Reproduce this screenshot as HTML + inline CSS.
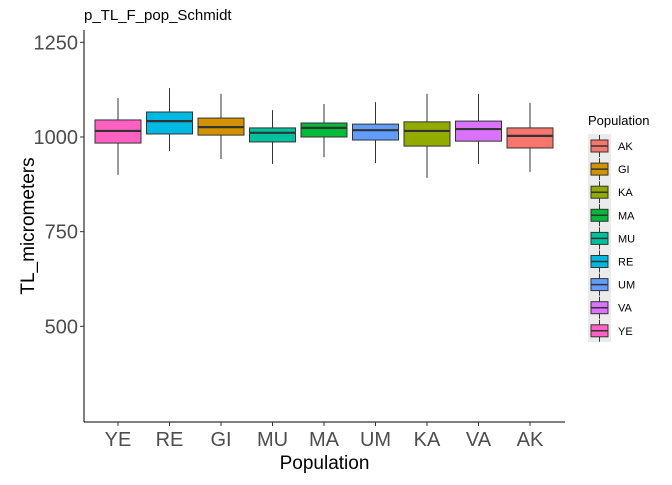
<!DOCTYPE html>
<html><head><meta charset="utf-8"><style>
body{margin:0;background:#fff;}
svg text{font-family:"Liberation Sans",sans-serif;}
</style></head><body>
<svg id="chart" width="672" height="480" xmlns="http://www.w3.org/2000/svg">
<text x="84" y="20" font-size="15" fill="#000">p_TL_F_pop_Schmidt</text>
<g id="plot"></g>
</svg>
<script>
const categories=["YE","RE","GI","MU","MA","UM","KA","VA","AK"];
const whiskerHigh=[1103,1129,1114,1071,1087,1092,1114,1114,1090];
const q3=[1045,1066,1050,1024,1037,1034,1040,1042,1024];
const medians=[1016,1042,1026,1011,1024,1018,1016,1021,1003];
const q1=[984,1008,1005,987,1000,992,976,989,971];
const whiskerLow=[900,963,942,929,947,931,892,929,908];
const yTicks=[500,750,1000,1250];
const legendOrder=["AK","GI","KA","MA","MU","RE","UM","VA","YE"];
const colors={AK:"#F8766D",GI:"#D39200",KA:"#93AA00",MA:"#00BA38",MU:"#00C19F",RE:"#00B9E3",UM:"#619CFF",VA:"#DB72FB",YE:"#FF61C3"};

const NS="http://www.w3.org/2000/svg";
const g=document.getElementById('plot');
const L=84,R=565,T=30,B=422;
function y(v){return 137-(v-1000)*0.3787;}
const step=51.5;
function x(i){return 118+step*i;}
function mk(tag,a,parent){const e=document.createElementNS(NS,tag);for(const k in a)e.setAttribute(k,a[k]);(parent||g).appendChild(e);return e;}

let e=mk('line',{x1:L,y1:T,x2:L,y2:B,stroke:'#000','stroke-width':1});


e=mk('line',{x1:L,y1:B,x2:R,y2:B,stroke:'#000','stroke-width':1});



yTicks.forEach(v=>{
  let t=mk('line',{x1:L-4,x2:L,y1:y(v),y2:y(v),stroke:'#333'});
  
  
  let l=mk('text',{x:L-6,y:y(v)+7,'font-size':20,'text-anchor':'end',fill:'#4d4d4d'});
  l.textContent=v;
  
  
});

categories.forEach((c,i)=>{
  const cx=x(i),w=46,col=colors[c];
  let grp=mk('g',{});
  
  
  mk('line',{x1:cx,x2:cx,y1:y(whiskerHigh[i]),y2:y(q3[i]),stroke:'#333'},grp);
  mk('line',{x1:cx,x2:cx,y1:y(q1[i]),y2:y(whiskerLow[i]),stroke:'#333'},grp);
  mk('rect',{x:cx-w/2,y:y(q3[i]),width:w,height:y(q1[i])-y(q3[i]),fill:col,stroke:'#333','stroke-width':1},grp);
  mk('line',{x1:cx-w/2,x2:cx+w/2,y1:y(medians[i]),y2:y(medians[i]),stroke:'#333','stroke-width':2.2},grp);
  let t=mk('line',{x1:cx,x2:cx,y1:B,y2:B+4,stroke:'#333'});
  
  
  let l=mk('text',{x:cx,y:B+24,'font-size':20,'text-anchor':'middle',fill:'#4d4d4d'});
  l.textContent=c;
  
  
});

let xt=mk('text',{x:(L+R)/2,y:469,'font-size':19,'text-anchor':'middle',fill:'#000'});
xt.textContent='Population';


let yt=mk('text',{x:0,y:0,'font-size':19,'text-anchor':'middle',fill:'#000',transform:'translate(34,226) rotate(-90)'});
yt.textContent='TL_micrometers';



let lg=mk('g',{});


mk('rect',{x:588,y:134,width:23,height:208,fill:'#ebebeb'},lg);
let lt=mk('text',{x:588,y:125,'font-size':13,fill:'#000'},lg);
lt.textContent='Population';


legendOrder.forEach((c,i)=>{
  const cy=146+i*23.1;
  let eg=mk('g',{},lg);
  
  
  mk('line',{x1:599.5,x2:599.5,y1:cy-11,y2:cy+11,stroke:'#333'},eg);
  mk('rect',{x:591,y:cy-6,width:17,height:12,fill:colors[c],stroke:'#333'},eg);
  mk('line',{x1:591,x2:608,y1:cy,y2:cy,stroke:'#333','stroke-width':1.5},eg);
  let tx=mk('text',{x:618,y:cy+4,'font-size':11,fill:'#000'},eg);
  tx.textContent=c;
});
</script>
</body></html>
